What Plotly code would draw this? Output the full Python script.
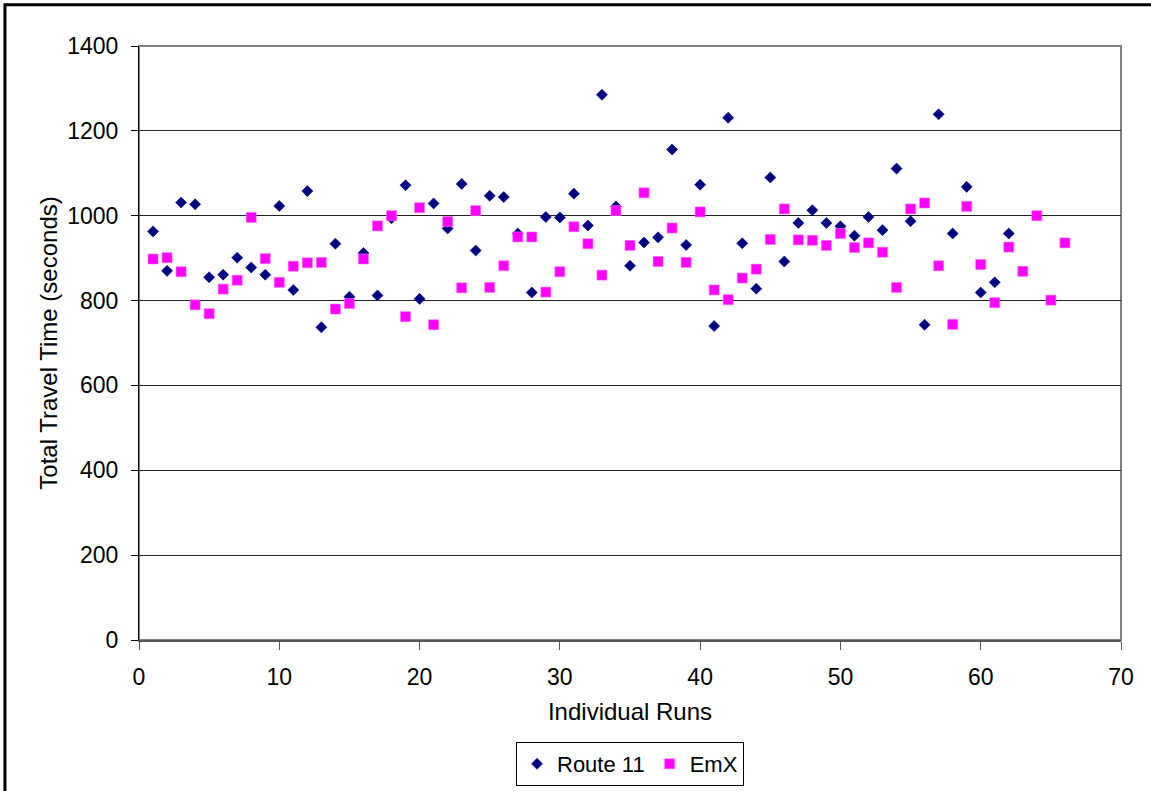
import plotly.graph_objects as go

# Total travel time per run, in seconds
route11_runs = list(range(1, 63))
route11_times = [
    963, 870, 1031, 1027, 855, 861, 901, 878, 861, 1023,
    825, 1058, 737, 934, 809, 912, 812, 994, 1072, 804,
    1029, 970, 1075, 918, 1047, 1044, 958, 819, 997, 996,
    1052, 977, 1285, 1022, 882, 937, 949, 1156, 931, 1073,
    740, 1231, 935, 828, 1090, 892, 983, 1013, 983, 975,
    953, 997, 966, 1111, 987, 743, 1239, 958, 1068, 819,
    843, 958,
]

emx_runs = list(range(1, 67))
emx_times = [
    898, 901, 868, 790, 769, 827, 848, 996, 899, 843,
    881, 889, 890, 780, 793, 898, 976, 1000, 762, 1019,
    743, 986, 830, 1012, 831, 882, 950, 950, 820, 868,
    974, 934, 860, 1012, 930, 1054, 892, 971, 890, 1009,
    825, 802, 853, 874, 944, 1016, 943, 942, 930, 958,
    925, 936, 914, 831, 1016, 1030, 882, 744, 1022, 885,
    795, 926, 869, 1000, 801, 936,
]

y_ticks = [0, 200, 400, 600, 800, 1000, 1200, 1400]
x_ticks = [0, 10, 20, 30, 40, 50, 60, 70]

FONT = "Arial, Liberation Sans, sans-serif"

fig = go.Figure()
fig.add_trace(go.Scatter(
    x=route11_runs, y=route11_times, mode="markers", name="Route 11",
    marker=dict(symbol="diamond", size=8.5, color="#000080",
                line=dict(width=0.6, color="#000080")),
))
fig.add_trace(go.Scatter(
    x=emx_runs, y=emx_times, mode="markers", name="EmX",
    marker=dict(symbol="square", size=10, color="#FF00FF",
                line=dict(width=0.6, color="#FF66FF")),
))

# plot-area frame (grey) and the outer chart border (black, runs off the right/bottom edge)
fig.add_shape(type="rect", xref="paper", yref="paper", x0=0, y0=0, x1=1, y1=1,
              line=dict(color="#808080", width=2), layer="below")
fig.add_shape(type="rect", xref="paper", yref="paper",
              x0=-0.1365, y0=-0.35, x1=1.1, y1=1.0695,
              line=dict(color="#000000", width=3), layer="below")

fig.update_layout(
    width=1151, height=791,
    margin=dict(l=139, r=30, t=46, b=151, autoexpand=False),
    paper_bgcolor="white", plot_bgcolor="white",
    font=dict(family=FONT, size=22, color="#000000"),
    showlegend=True,
    legend=dict(
        orientation="h", x=0.5, xanchor="center",
        yref="container", y=1 - 742 / 791, yanchor="top",
        bordercolor="#000000", borderwidth=1, bgcolor="white",
        font=dict(family=FONT, size=22), itemwidth=30,
        tracegroupgap=0,
    ),
    xaxis=dict(
        range=[0, 70], tickvals=x_ticks, ticktext=[str(v) for v in x_ticks],
        showgrid=False, zeroline=False,
        showline=True, linecolor="#555555", linewidth=2,
        ticks="outside", ticklen=8, tickcolor="#555555", tickwidth=1,
        ticklabelstandoff=7, tickfont=dict(size=23),
        title=dict(text="Individual Runs", standoff=15,
                   font=dict(family=FONT, size=24)),
    ),
    yaxis=dict(
        range=[0, 1400], tickvals=y_ticks, ticktext=[str(v) for v in y_ticks],
        showgrid=True, gridcolor="#222222", gridwidth=1, zeroline=False,
        showline=True, linecolor="#000000", linewidth=1,
        ticks="outside", ticklen=7, tickcolor="#000000", tickwidth=1,
        ticklabelstandoff=8, tickfont=dict(size=23),
        title=dict(text="Total Travel Time (seconds)", standoff=2,
                   font=dict(family=FONT, size=24)),
    ),
)

fig.write_html("out.html")
